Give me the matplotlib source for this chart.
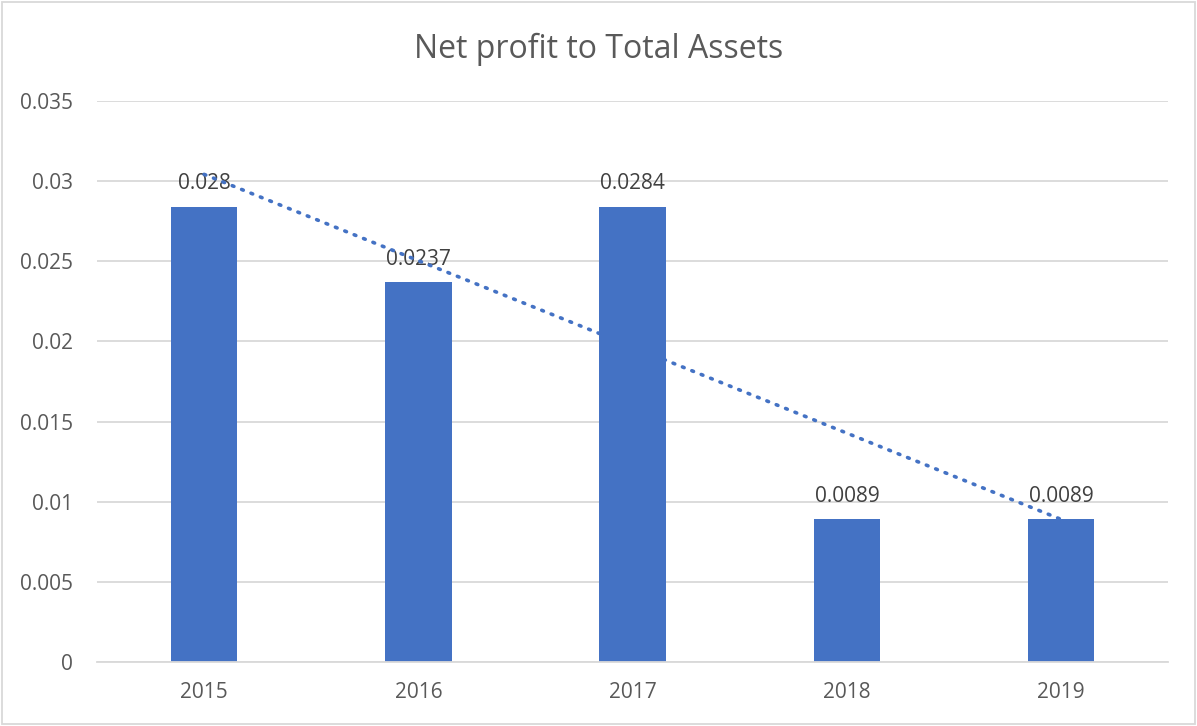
import matplotlib.pyplot as plt
import numpy as np
from matplotlib.patches import Rectangle

# data
years = ['2015', '2016', '2017', '2018', '2019']
ratio = [0.0284, 0.0237, 0.0284, 0.0089, 0.0089]
shown = ['0.028', '0.0237', '0.0284', '0.0089', '0.0089']
yticks = [0, 0.005, 0.01, 0.015, 0.02, 0.025, 0.03, 0.035]
ytick_labels = ['0', '0.005', '0.01', '0.015', '0.02', '0.025', '0.03', '0.035']

plt.rcParams['font.family'] = ['Open Sans', 'DejaVu Sans']

blue = '#4472C4'
grid = '#D9D9D9'
txt = '#595959'

fig = plt.figure(figsize=(11.97, 7.26), dpi=100)
ax = fig.add_axes([0.081, 0.088, 0.895, 0.773])

x = np.arange(len(years))
ax.bar(x, ratio, width=0.31, color=blue, zorder=2)

# linear trendline (like Excel's)
k, b = np.polyfit(x + 1, ratio, 1)
ax.plot(x, k * (x + 1) + b, color=blue, lw=2.6, linestyle=(0, (0.5, 2.3)),
        dash_capstyle='round', zorder=4)

for xi, v, s in zip(x, ratio, shown):
    ax.annotate(s, (xi, v), xytext=(0, 9), textcoords='offset points',
                ha='center', va='bottom', fontsize=15, color='#404040', zorder=3)

ax.set_xlim(-0.5, 4.5)
ax.set_ylim(0, 0.035)
ax.set_xticks(x)
ax.set_xticklabels(years)
ax.set_yticks(yticks)
ax.set_yticklabels(ytick_labels)
ax.tick_params(axis='both', length=0, labelsize=15, labelcolor=txt)
ax.tick_params(axis='y', pad=17)
ax.tick_params(axis='x', pad=14)
ax.grid(axis='y', color=grid, lw=1.3, zorder=0)
ax.set_axisbelow(True)
for sp in ['top', 'right', 'left']:
    ax.spines[sp].set_visible(False)
ax.spines['bottom'].set_color(grid)
ax.spines['bottom'].set_linewidth(1.3)

fig.text(0.5, 0.932, 'Net profit to Total Assets', ha='center', va='center',
         fontsize=23, color=txt)

fig.patches.append(Rectangle((0.002, 0.003), 0.996, 0.994, transform=fig.transFigure,
                             fill=False, edgecolor=grid, lw=1.3))

fig.savefig('out.png', dpi=100)
